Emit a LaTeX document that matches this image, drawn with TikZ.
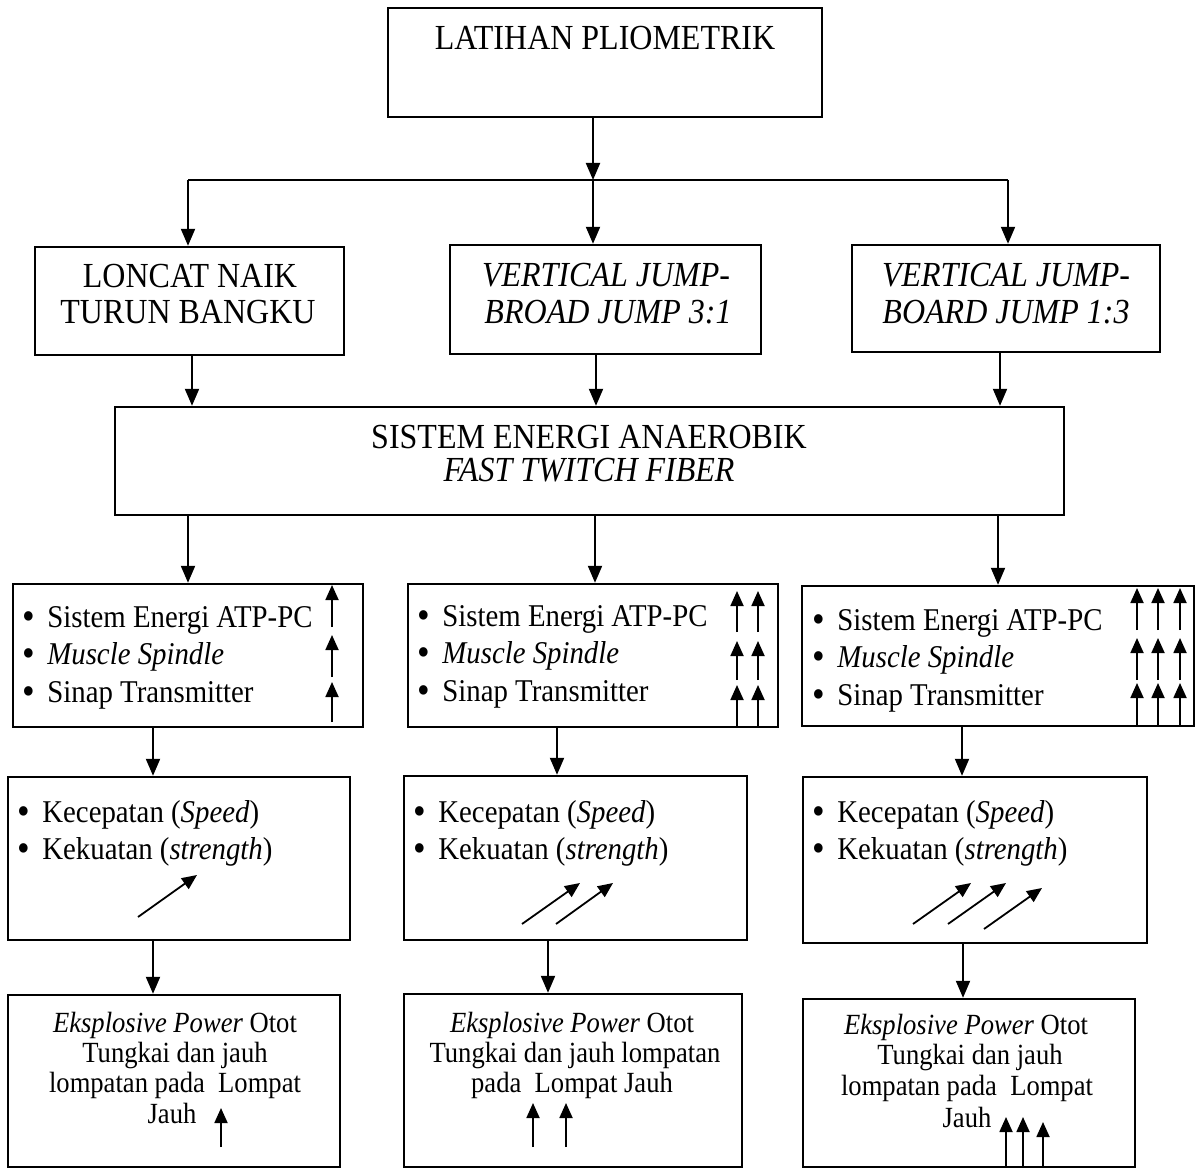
\documentclass[tikz,border=0pt]{standalone}
\usepackage{fontspec}
\setmainfont{Liberation Serif}
\usepackage{graphicx}
\usetikzlibrary{arrows.meta}
\newcommand\vs[1]{\scalebox{1}[1.1]{#1}}
\newcommand\fA{\fontsize{16}{19}\selectfont}
\newcommand\fB{\fontsize{14.4}{17}\selectfont}
\newcommand\fC{\fontsize{13.3}{15}\selectfont}
\newcommand\bul{\llap{\raisebox{-0.08em}{\scalebox{1.25}{\textbullet}}\hspace{6pt}}}
\tikzset{
  box/.style={draw, line width=1.2pt, inner sep=0pt},
  conn/.style={line width=1pt, -{Triangle[length=8.5pt,width=7pt]}},
  plain/.style={line width=1pt},
  ind/.style={line width=0.9pt, -{Triangle[length=7.5pt,width=6.5pt]}},
  txt/.style={inner sep=0pt, anchor=base},
  ltxt/.style={inner sep=0pt, anchor=base west},
}
\begin{document}
\begin{tikzpicture}[x=0.5pt,y=-0.5pt]
\useasboundingbox (0,0) rectangle (1203,1171);
% boxes
\node[box, minimum width=217pt, minimum height=54.5pt] (T) at (605,62.5) {};
\node[box, minimum width=154.5pt, minimum height=54pt] (B1) at (189.5,301) {};
\node[box, minimum width=155.5pt, minimum height=54.5pt] (B2) at (605.5,299.5) {};
\node[box, minimum width=154pt, minimum height=53.5pt] (B3) at (1006,298.5) {};
\node[box, minimum width=474.5pt, minimum height=54pt] (S) at (589.5,461) {};
\node[box, minimum width=175pt, minimum height=71.5pt] (Ra) at (188,655.5) {};
\node[box, minimum width=185pt, minimum height=71.5pt] (Rb) at (593,655.5) {};
\node[box, minimum width=196pt, minimum height=70pt] (Rc) at (998,656) {};
\node[box, minimum width=171pt, minimum height=81.5pt] (Pa) at (179,858.5) {};
\node[box, minimum width=171.5pt, minimum height=82pt] (Pb) at (575.5,858) {};
\node[box, minimum width=172pt, minimum height=83pt] (Pc) at (975,860) {};
\node[box, minimum width=166pt, minimum height=86pt] (Ea) at (174,1081) {};
\node[box, minimum width=169pt, minimum height=86.5pt] (Eb) at (573,1080.5) {};
\node[box, minimum width=166pt, minimum height=84pt] (Ec) at (969,1083) {};

% texts
\node[txt, font=\fA] (tT) at (605,50) {\vs{LATIHAN PLIOMETRIK}};
\node[txt, font=\fA] (t1a) at (190,288) {\vs{LONCAT NAIK}};
\node[txt, font=\fA] (t1b) at (188,324) {\vs{TURUN BANGKU}};
\node[txt, font=\fA\itshape] (t2a) at (606,287) {\vs{VERTICAL JUMP-}};
\node[txt, font=\fA\itshape] (t2b) at (608,323) {\vs{BROAD JUMP 3:1}};
\node[txt, font=\fA\itshape] (t3a) at (1006,287) {\vs{VERTICAL JUMP-}};
\node[txt, font=\fA\itshape] (t3b) at (1006,323) {\vs{BOARD JUMP 1:3}};
\node[txt, font=\fA] (tSa) at (589,448) {\vs{SISTEM ENERGI ANAEROBIK}};
\node[txt, font=\fA\itshape] (tSb) at (589,481) {\vs{FAST TWITCH FIBER}};

\node[ltxt, font=\fB] (ra1) at (47,627) {\vs{\bul Sistem Energi ATP-PC}};
\node[ltxt, font=\fB] (ra2) at (47,664) {\vs{\bul\textit{Muscle Spindle}}};
\node[ltxt, font=\fB] (ra3) at (47,702) {\vs{\bul Sinap Transmitter}};
\node[ltxt, font=\fB] (rb1) at (442,626) {\vs{\bul Sistem Energi ATP-PC}};
\node[ltxt, font=\fB] (rb2) at (442,663) {\vs{\bul\textit{Muscle Spindle}}};
\node[ltxt, font=\fB] (rb3) at (442,701) {\vs{\bul Sinap Transmitter}};
\node[ltxt, font=\fB] (rc1) at (837,630) {\vs{\bul Sistem Energi ATP-PC}};
\node[ltxt, font=\fB] (rc2) at (837,667) {\vs{\bul\textit{Muscle Spindle}}};
\node[ltxt, font=\fB] (rc3) at (837,705) {\vs{\bul Sinap Transmitter}};

\node[ltxt, font=\fB] (pa1) at (42,822) {\vs{\bul Kecepatan (\textit{Speed})}};
\node[ltxt, font=\fB] (pa2) at (42,859) {\vs{\bul Kekuatan (\textit{strength})}};
\node[ltxt, font=\fB] (pb1) at (438,822) {\vs{\bul Kecepatan (\textit{Speed})}};
\node[ltxt, font=\fB] (pb2) at (438,859) {\vs{\bul Kekuatan (\textit{strength})}};
\node[ltxt, font=\fB] (pc1) at (837,822) {\vs{\bul Kecepatan (\textit{Speed})}};
\node[ltxt, font=\fB] (pc2) at (837,859) {\vs{\bul Kekuatan (\textit{strength})}};

\node[txt, font=\fC] (ea1) at (175,1032) {\vs{\textit{Eksplosive Power} Otot}};
\node[txt, font=\fC] (ea2) at (175,1062) {\vs{Tungkai dan jauh}};
\node[txt, font=\fC] (ea3) at (175,1092) {\vs{lompatan pada~ Lompat}};
\node[txt, font=\fC] (ea4) at (172,1123) {\vs{Jauh}};
\node[txt, font=\fC] (eb1) at (572,1032) {\vs{\textit{Eksplosive Power} Otot}};
\node[txt, font=\fC] (eb2) at (575,1062) {\vs{Tungkai dan jauh lompatan}};
\node[txt, font=\fC] (eb3) at (572,1092) {\vs{pada~ Lompat Jauh}};
\node[txt, font=\fC] (ec1) at (966,1034) {\vs{\textit{Eksplosive Power} Otot}};
\node[txt, font=\fC] (ec2) at (970,1064) {\vs{Tungkai dan jauh}};
\node[txt, font=\fC] (ec3) at (967,1095) {\vs{lompatan pada~ Lompat}};
\node[txt, font=\fC] (ec4) at (967,1127) {\vs{Jauh}};

% connectors
\coordinate (k0) at (593,180);
\coordinate (k1) at (188,180);
\coordinate (k3) at (1008,180);
\draw[conn] (T.south -| k0) -- (k0);
\draw[plain] (k1) -- (k3);
\draw[conn] (k1) -- (k1 |- B1.north);
\draw[conn] (k0) -- (k0 |- B2.north);
\draw[conn] (k3) -- (k3 |- B3.north);

\coordinate (c1) at (192,0); \coordinate (c2) at (596,0); \coordinate (c3) at (1000,0);
\draw[conn] (B1.south -| c1) -- (S.north -| c1);
\draw[conn] (B2.south -| c2) -- (S.north -| c2);
\draw[conn] (B3.south -| c3) -- (S.north -| c3);

\coordinate (d1) at (188,0); \coordinate (d2) at (595,0); \coordinate (d3) at (998,0);
\draw[conn] (S.south -| d1) -- (Ra.north -| d1);
\draw[conn] (S.south -| d2) -- (Rb.north -| d2);
\draw[conn] (S.south -| d3) -- (Rc.north -| d3);

\coordinate (e1) at (153,0); \coordinate (e2) at (557,0); \coordinate (e3) at (962,0);
\draw[conn] (Ra.south -| e1) -- (Pa.north -| e1);
\draw[conn] (Rb.south -| e2) -- (Pb.north -| e2);
\draw[conn] (Rc.south -| e3) -- (Pc.north -| e3);

\coordinate (f1) at (153,0); \coordinate (f2) at (548,0); \coordinate (f3) at (963,0);
\draw[conn] (Pa.south -| f1) -- (Ea.north -| f1);
\draw[conn] (Pb.south -| f2) -- (Eb.north -| f2);
\draw[conn] (Pc.south -| f3) -- (Ec.north -| f3);

% indicator arrows, row 4
\draw[ind] (332,627) -- (332,585);
\draw[ind] (332,677) -- (332,635);
\draw[ind] (332,722) -- (332,682);
\foreach \x in {737,758}{
  \draw[ind] (\x,632) -- (\x,591);
  \draw[ind] (\x,680) -- (\x,641);
  \draw[ind] (\x,727) -- (\x,685);
}
\foreach \x in {1137,1158,1180}{
  \draw[ind] (\x,630) -- (\x,588);
  \draw[ind] (\x,680) -- (\x,638);
  \draw[ind] (\x,726) -- (\x,683);
}
% diagonal arrows, row 5
\draw[ind] (138,917) -- (197,875);
\draw[ind] (522,924) -- (580,883);
\draw[ind] (556,924) -- (613,883);
\draw[ind] (913,924) -- (971,883);
\draw[ind] (948,924) -- (1006,883);
\draw[ind] (984,929) -- (1042,888);
% up arrows, row 6
\draw[ind] (221,1147) -- (221,1108);
\draw[ind] (533,1147) -- (533,1103);
\draw[ind] (566,1147) -- (566,1103);
\draw[ind] (1006,1167) -- (1006,1117);
\draw[ind] (1023,1167) -- (1023,1117);
\draw[ind] (1043,1167) -- (1043,1122);
\end{tikzpicture}
\end{document}
